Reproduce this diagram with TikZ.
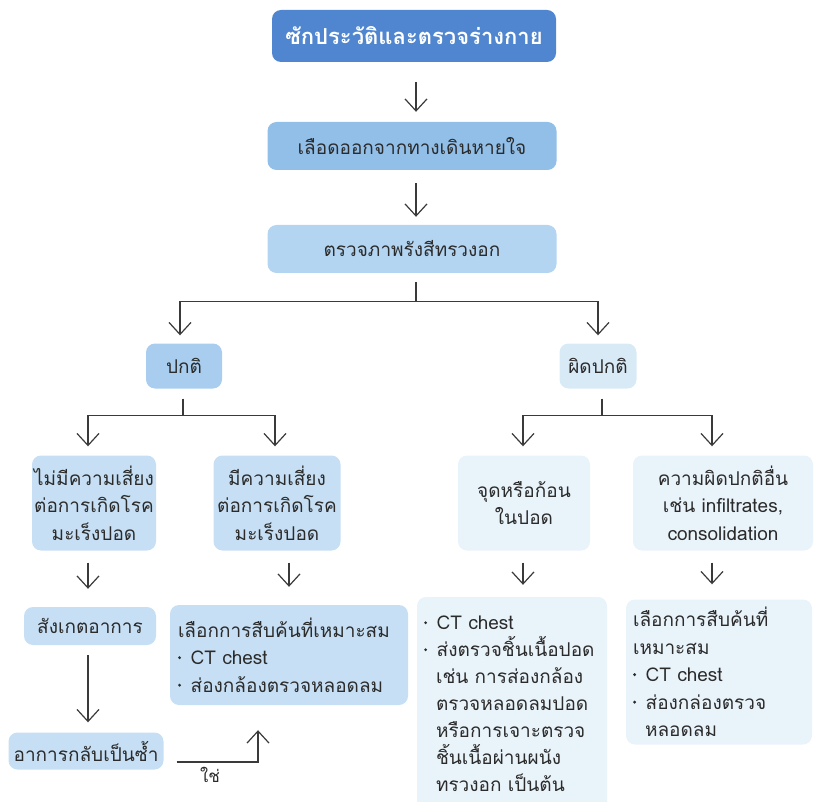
\documentclass[tikz,border=0pt]{standalone}
\usepackage{fontspec}
\setmainfont{Loma}[Script=Thai]
\usetikzlibrary{arrows.meta}

\definecolor{topblue}{HTML}{4F86CF}
\definecolor{bluetwo}{HTML}{92BFE8}
\definecolor{bluethree}{HTML}{B4D5F1}
\definecolor{normalblue}{HTML}{A9CDEE}
\definecolor{abnblue}{HTML}{D9EAF7}
\definecolor{leftblue}{HTML}{C6DFF4}
\definecolor{paleblue}{HTML}{E9F3FA}
\definecolor{txt}{HTML}{2B2B2B}
\definecolor{lc}{HTML}{3A3A3A}

% list bullet: a small filled dot followed by a space
\newcommand{\bul}{\raisebox{0.55ex}{\tikz\fill[txt] (0,0) circle (1.6pt);}\ \,}
\newcommand{\ind}{\hspace*{12pt}}

\tikzset{
  box/.style={rounded corners=9pt, inner sep=0pt, text=txt, align=center,
    font=\fontsize{19}{27.5}\selectfont},
  lbox/.style={box, align=left, inner xsep=8pt},
  ln/.style={draw=lc, line width=1.2pt},
  arr/.style={ln, -{Straight Barb[length=12pt,width=22pt]}},
}

\begin{document}
\begin{tikzpicture}[x=1pt,y=-1pt]
\useasboundingbox (0,0) rectangle (822,802);

% main column
\node[box, fill=topblue, text=white, minimum width=284pt, minimum height=52pt,
  font=\fontsize{22}{27}\selectfont\bfseries] (hist) at (414,36) {ซักประวัติและตรวจร่างกาย};
\node[box, fill=bluetwo, minimum width=289pt, minimum height=48pt] (bleed) at (412,146) {เลือดออกจากทางเดินหายใจ};
\node[box, fill=bluethree, minimum width=289pt, minimum height=48pt] (xray) at (412,249) {ตรวจภาพรังสีทรวงอก};

% x-ray result
\node[box, fill=normalblue, minimum width=76pt, minimum height=45pt] (normal) at (184,366) {ปกติ};
\node[box, fill=abnblue, minimum width=77pt, minimum height=45pt] (abn) at (598,366) {ผิดปกติ};

% normal x-ray branch
\node[box, fill=leftblue, minimum width=124pt, minimum height=95pt] (norisk) at (94,503)
  {ไม่มีความเสี่ยง\\ต่อการเกิดโรค\\มะเร็งปอด};
\node[box, fill=leftblue, minimum width=127pt, minimum height=95pt] (risk) at (277,503)
  {มีความเสี่ยง\\ต่อการเกิดโรค\\มะเร็งปอด};

% abnormal x-ray branch
\node[box, fill=paleblue, minimum width=132pt, minimum height=95pt] (nodule) at (524,503)
  {จุดหรือก้อน\\ในปอด};
\node[box, fill=paleblue, minimum width=180pt, minimum height=95pt] (other) at (723,503)
  {ความผิดปกติอื่น\\เช่น infiltrates,\\consolidation};

% follow-up
\node[box, fill=leftblue, minimum width=132pt, minimum height=38pt] (observe) at (90,626) {สังเกตอาการ};
\node[lbox, fill=leftblue, text width=222pt, minimum height=100pt] (choose) at (289,655)
  {เลือกการสืบค้นที่เหมาะสม\\\bul CT chest\\\bul ส่องกล้องตรวจหลอดลม};
\node[box, fill=leftblue, minimum width=155pt, minimum height=37pt] (relapse) at (86,751) {อาการกลับเป็นซ้ำ};

\node[lbox, fill=paleblue, inner xsep=7pt, text width=176pt, minimum height=214pt,
  font=\fontsize{19}{27}\selectfont] (ctbx) at (512,704)
  {\bul CT chest\\\bul ส่งตรวจชิ้นเนื้อปอด\\\ind เช่น การส่องกล้อง\\\ind ตรวจหลอดลมปอด\\\ind หรือการเจาะตรวจ\\\ind ชิ้นเนื้อผ่านผนัง\\\ind ทรวงอก เป็นต้น};
\node[lbox, fill=paleblue, inner xsep=7pt, text width=172pt, minimum height=145pt] (otherinv) at (719,672)
  {เลือกการสืบค้นที่\\เหมาะสม\\\bul CT chest\\\bul ส่องกล่องตรวจ\\\ind หลอดลม};

\node[text=txt, font=\fontsize{17}{20}\selectfont] (yes) at (210,775) {ใช่};

% connectors
\draw[arr, shorten <=20pt, shorten >=10pt] ([xshift=2pt]hist.south) -- ([xshift=4pt]bleed.north);
\draw[arr, shorten <=13pt, shorten >=8pt] ([xshift=4pt]bleed.south) -- ([xshift=4pt]xray.north);

\path ([xshift=4pt]xray.south) ++(0,28) coordinate (j1);
\draw[ln, shorten <=9pt] ([xshift=4pt]xray.south) -- (j1);
\draw[arr, shorten >=8pt] (j1) -| ([xshift=-4pt]normal.north);
\draw[arr, shorten >=8pt] (j1) -| (abn.north);

\path ([xshift=-1pt]normal.south) ++(0,27) coordinate (j2);
\draw[ln, shorten <=10pt] ([xshift=-1pt]normal.south) -- (j2);
\draw[arr, shorten >=9pt] (j2) -| ([xshift=-6pt]norisk.north);
\draw[arr, shorten >=9pt] (j2) -| ([xshift=-2pt]risk.north);

\path ([xshift=4pt]abn.south) ++(0,27) coordinate (j3);
\draw[ln, shorten <=10pt] ([xshift=4pt]abn.south) -- (j3);
\draw[arr, shorten >=9pt] (j3) -| ([xshift=-1pt]nodule.north);
\draw[arr, shorten >=9pt] (j3) -| ([xshift=-11pt]other.north);

\draw[arr, shorten <=12pt, shorten >=18pt] ([xshift=-6pt]norisk.south) -- ([xshift=-6pt]norisk.south |- observe.north);
\draw[arr, shorten <=12pt, shorten >=18pt] (risk.south -| choose.north) -- (choose.north);
\draw[arr, shorten <=12pt, shorten >=12pt] ([xshift=-1pt]nodule.south) -- ([xshift=-1pt]nodule.south |- ctbx.north);
\draw[arr, shorten <=12pt, shorten >=15pt] ([xshift=-11pt]other.south) -- ([xshift=-11pt]other.south |- otherinv.north);

\draw[arr, shorten <=10pt, shorten >=10pt] ([xshift=-2pt]observe.south) -- ([xshift=-2pt]observe.south |- relapse.north);
\draw[arr, shorten <=13pt, shorten >=25pt] ([yshift=-11pt]relapse.east) -| ([xshift=-31pt]choose.south);
\end{tikzpicture}
\end{document}
